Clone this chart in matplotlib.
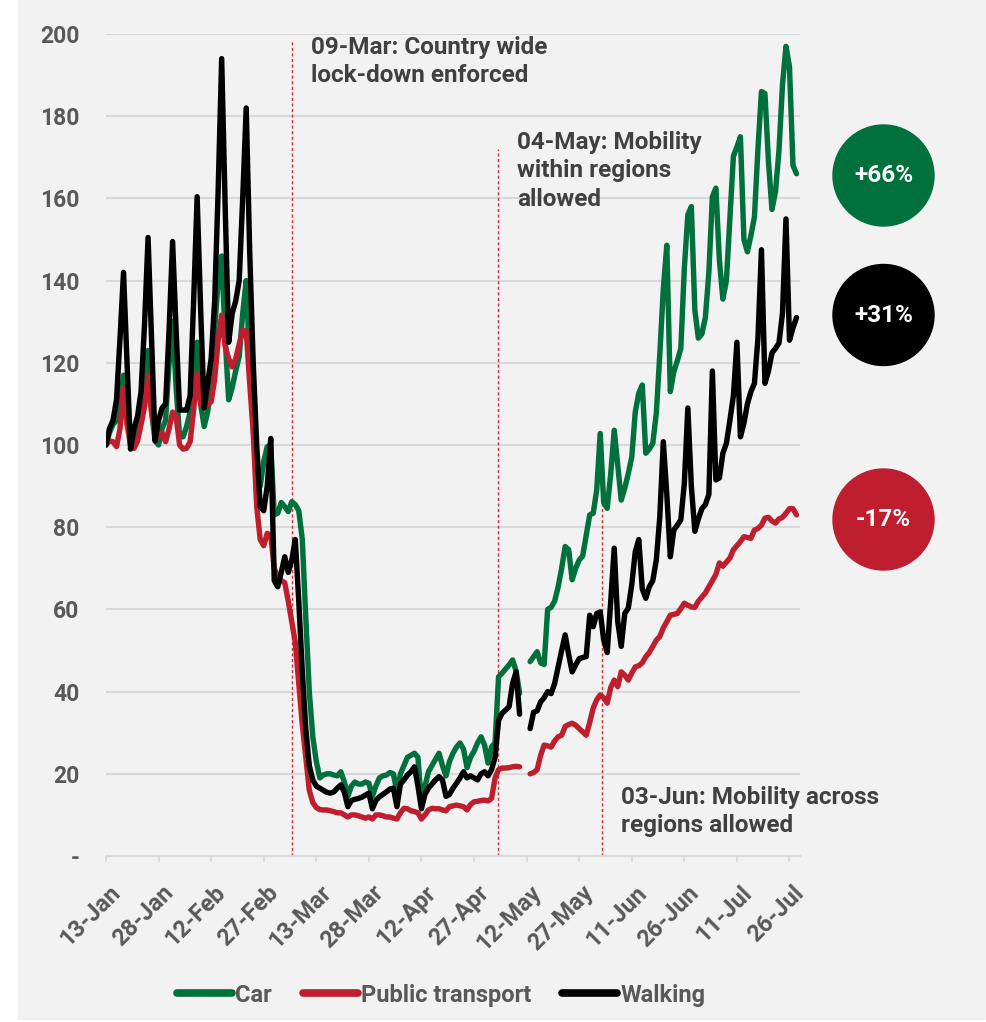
import matplotlib.pyplot as plt
import matplotlib.transforms as mtransforms
import numpy as np
from matplotlib.patches import Ellipse, Rectangle

nan = np.nan

# daily mobility index (13-Jan = 100), one row per week (Mon..Sun)
car = [
    100, 103, 105, 106, 110, 117, 107,
    101, 100, 104, 107, 111, 123, 108,
    101, 100, 104, 106, 120, 130, 114,
    102, 102, 104.5, 108, 113, 125, 110,
    104.5, 108, 114, 128, 140, 146, 126,
    111, 114, 118, 121.5, 132, 140, 120,
    104, 93, 90, 96, 99.6, 100, 83,
    83.4, 86, 85, 83.8, 86.2, 85.5, 84,
    77, 58, 40, 29, 23, 19, 19.7,
    20, 20, 19.7, 19.5, 20.5, 18, 14.5,
    17, 18, 17.5, 17.5, 18, 17.7, 14.5,
    17, 19, 19.5, 19.7, 20.3, 20, 15.6,
    20, 22, 24, 24.5, 25, 24, 12.5,
    17, 20.5, 22, 23.5, 25, 22, 19.5,
    23, 25, 26.5, 27.5, 26, 21.5, 24,
    25.5, 27.5, 29, 27, 22.6, 26.6, 27.5,
    43.6, 44.5, 45.5, 46.5, 47.7, 45, 39.6,
    nan, nan, 47.3, 48.5, 49.7, 47, 46.6,
    60, 60.5, 62, 65.5, 70, 75.3, 74.5,
    67.2, 70, 72, 73, 78, 83, 83.4,
    89, 102.8, 86, 84.6, 93, 103.6, 95,
    86.6, 89.5, 93, 97, 108, 112.6, 114.6,
    98, 99, 100.4, 107.7, 122, 138, 148.6,
    113, 117.8, 120.5, 123.5, 143, 156, 158,
    132.8, 126, 127, 131, 142, 160.4, 162.5,
    145, 135.5, 140, 155, 170.3, 172.5, 175,
    150, 147, 151, 155.5, 172, 186, 185.5,
    169, 157.3, 161.6, 171.6, 187.6, 197, 192,
    168, 166,
]

public_transport = [
    100, 101, 100.8, 99.6, 104, 114, 105,
    100, 99.2, 101, 105, 109.3, 117, 108,
    103, 102, 103, 100.8, 104, 108, 107,
    100, 99, 99.2, 100.8, 108.5, 117.4, 110,
    109, 110, 110.5, 116, 125.5, 131.6, 124,
    121, 119, 121, 124.5, 128, 127.7, 115,
    103, 85, 77, 75.5, 78.5, 78, 70,
    68, 67, 66.5, 62, 57, 52, 42,
    32, 24, 16, 13, 11.8, 11.3, 11.2,
    11.2, 11, 10.8, 10.5, 10.5, 10, 9.5,
    10, 10, 9.8, 9.5, 9.2, 9.5, 9,
    10, 10, 9.8, 9.5, 9.5, 9.2, 9,
    10.5, 11.6, 11.5, 11, 10.8, 10.5, 9,
    10, 11.2, 11.6, 11.5, 11.5, 11.2, 11,
    12, 12.2, 12.4, 12.2, 12, 11.2, 12.5,
    13.2, 13.3, 13.5, 13.6, 13.4, 14, 19,
    21, 21.4, 21.4, 21.5, 21.7, 21.8, 21.7,
    nan, nan, 20, 20.3, 21, 24.5, 27,
    26.8, 26.5, 28, 29, 29.4, 31.5, 32,
    32.3, 31.8, 31, 30.2, 29.4, 32.5, 36,
    38, 39.2, 38.5, 37.2, 41, 42.8, 41.2,
    44.8, 44, 42.8, 44.5, 46, 46.3, 47,
    48.5, 49.5, 51, 52.5, 53.4, 55.5, 57,
    58.6, 58.8, 59, 60.2, 61.5, 61, 60.6,
    60.5, 62, 63, 64, 65.5, 67, 68.5,
    71.3, 70.5, 71.5, 72.5, 74.5, 75.5, 76.5,
    77.7, 77.5, 77.3, 79.3, 79.7, 80.5, 82.2,
    82.4, 81.5, 81, 82, 82.4, 83.4, 84.5,
    84.5, 83,
]

walking = [
    100, 104, 106, 111, 126, 142, 120,
    99, 104, 107, 113, 129.5, 150.5, 126,
    101, 106, 109, 110, 128, 149.5, 128,
    108.5, 108.5, 108.5, 112, 135, 160.4, 133,
    109, 115, 121, 135, 162, 194, 158,
    125, 132, 135, 140, 160, 182, 147,
    120, 100, 85, 84, 90, 101.6, 67,
    65.5, 69, 72.8, 69, 72, 77, 62,
    45, 31, 22, 18.5, 17, 16.5, 16,
    15.5, 15.3, 15.6, 16.5, 17.3, 15.5, 12,
    13.5, 13.8, 14, 14.3, 14.8, 15.3, 11.5,
    13.5, 14.4, 15, 15.6, 16.3, 16.5, 12,
    17.5, 18.5, 19.7, 20.5, 21.7, 17, 11.5,
    15, 16.5, 17.5, 18.5, 19.3, 18.5, 14.5,
    15, 16.5, 17.7, 19, 20.5, 19, 19.5,
    19, 18.5, 20, 20.5, 19.5, 21, 24,
    33, 34.7, 35.5, 36.3, 42, 44.8, 34.5,
    nan, nan, 31, 35, 35.3, 37.5, 38.5,
    40, 39.5, 42, 46, 50, 53.8, 49,
    44.8, 46.5, 48, 48.3, 48.5, 58.6, 55.8,
    59, 59.4, 52.5, 49.5, 62, 74.9, 57,
    51, 59, 60.3, 66, 74, 77, 65,
    62.7, 65.5, 67, 72, 82.5, 100.8, 88,
    72.8, 79.3, 80.5, 81.8, 90.7, 109, 90,
    79, 82, 84.5, 85.5, 88, 118, 91.5,
    92, 98, 100.4, 106, 112, 125, 102,
    105.3, 110, 113, 115, 126, 147.5, 115,
    118, 122.4, 123.5, 124.8, 132, 155, 125.5,
    128.5, 131,
]

tick_labels = ["13-Jan", "28-Jan", "12-Feb", "27-Feb", "13-Mar", "28-Mar", "12-Apr",
               "27-Apr", "12-May", "27-May", "11-Jun", "26-Jun", "11-Jul", "26-Jul"]

events = [
    "09-Mar: Country wide\nlock-down enforced",
    "04-May: Mobility\nwithin regions\nallowed",
    "03-Jun: Mobility across\nregions allowed",
]

W, H = 987, 1022
GREEN = "#00703c"
RED = "#be1e2d"
BLACK = "#000000"
TXT = "#404040"
TICK = "#595959"
GRID = "#d9d9d9"


def fx(px):
    return px / W


def fy(py):
    return 1 - py / H


def main():
    plt.rcParams["font.family"] = ["Roboto", "DejaVu Sans"]

    fig = plt.figure(figsize=(W / 100, H / 100), dpi=100)
    fig.patches.append(Rectangle((fx(18), fy(1019)), fx(985) - fx(18), fy(0) - fy(1019),
                                 transform=fig.transFigure, color="#f2f2f2", zorder=-10))

    ax = fig.add_axes([fx(106), fy(856), fx(800) - fx(106), fy(34) - fy(856)])
    ax.set_facecolor("none")

    days = np.arange(len(car))
    series = [("Car", car, GREEN), ("Public transport", public_transport, RED),
              ("Walking", walking, BLACK)]
    lines = []
    for name, vals, col in series:
        ln, = ax.plot(days, vals, color=col, lw=3.9, label=name,
                      solid_joinstyle="round", solid_capstyle="round", zorder=3)
        lines.append(ln)

    # event markers
    for d, top in [(53, 198), (111.9, 172), (141.4, 101)]:
        ax.plot([d, d], [0, top], color="#d6282f", lw=1, ls=(0, (2.2, 1.8)), zorder=2)

    ax.set_xlim(0, 198)
    ax.set_ylim(0, 200)
    ax.set_yticks(range(0, 201, 20))
    ax.set_yticklabels(["-"] + [str(v) for v in range(20, 201, 20)])
    ax.set_xticks(range(0, 196, 15))
    ax.set_xticklabels(tick_labels, rotation=45, ha="right", va="center",
                       rotation_mode="anchor")
    ax.grid(axis="y", color=GRID, lw=1.5)
    ax.set_axisbelow(True)
    for s in ["top", "right", "left"]:
        ax.spines[s].set_visible(False)
    ax.spines["bottom"].set_color(GRID)
    ax.spines["bottom"].set_linewidth(1.5)
    ax.tick_params(axis="y", length=0, pad=19, labelsize=16.5, labelcolor=TICK)
    ax.tick_params(axis="x", length=4, width=1.2, color=GRID, pad=20,
                   labelsize=17, labelcolor=TICK)
    for lbl in ax.get_yticklabels() + ax.get_xticklabels():
        lbl.set_fontweight("bold")
    offset = mtransforms.ScaledTranslation(11 / 100, 0, fig.dpi_scale_trans)
    for lbl in ax.get_xticklabels():
        lbl.set_transform(lbl.get_transform() + offset)

    # annotations
    for (x, y), txt in zip([(311, 36), (517, 131), (621, 786)], events):
        fig.text(fx(x), fy(y), txt, ha="left", va="top", fontsize=17.5,
                 fontweight="bold", color=TXT, linespacing=1.3)

    # change badges
    for (cy, vals, col) in [(175.5, car, GREEN), (315, walking, BLACK),
                            (519.5, public_transport, RED)]:
        pct = vals[-1] - 100
        fig.patches.append(Ellipse((fx(883.5), fy(cy)), 101 / W, 101 / H,
                                   transform=fig.transFigure, color=col))
        fig.text(fx(883.5), fy(cy), f"{pct:+.0f}%", ha="center", va="center",
                 fontsize=17.5, fontweight="bold", color="white")

    leg = fig.legend(lines, [l.get_label() for l in lines], loc="center",
                     bbox_to_anchor=(fx(441), fy(995)), ncol=3, frameon=False,
                     handlelength=2.35, handletextpad=0.12, columnspacing=1.3,
                     prop={"size": 17, "weight": "bold"})
    for t in leg.get_texts():
        t.set_color(TICK)
    for h in leg.legend_handles:
        h.set_linewidth(5.5)

    fig.savefig("out.png", dpi=100, facecolor="white")


if __name__ == "__main__":
    main()
